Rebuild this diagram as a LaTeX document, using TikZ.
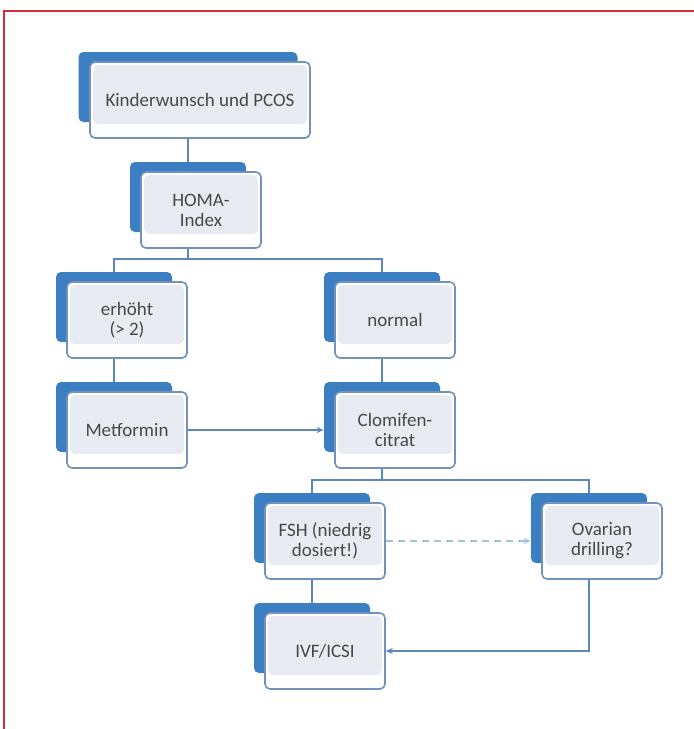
\documentclass[tikz,border=0pt]{standalone}
\usepackage{fontspec}
\setmainfont{Carlito}
\usetikzlibrary{arrows.meta}

\definecolor{backblue}{HTML}{3B7FC2}
\definecolor{frameblue}{HTML}{7092BC}
\definecolor{innergray}{HTML}{E8ECF2}
\definecolor{lineblue}{HTML}{5C87B8}
\definecolor{dashblue}{HTML}{A3BEDF}
\definecolor{framered}{HTML}{D22B3C}
\definecolor{textgray}{HTML}{474747}

\tikzset{
  back/.style={fill=backblue, rounded corners=2.5pt, minimum width=58pt, minimum height=35pt, inner sep=0pt},
  front/.style={draw=frameblue, line width=0.8pt, fill=white, rounded corners=2.5pt,
    minimum width=60pt, minimum height=38pt, inner sep=0pt,
    text=textgray, font=\fontsize{9.5}{10}\selectfont, align=center,
    path picture={\fill[innergray] ([shift={(1.5pt,-1.5pt)}]path picture bounding box.north west)
      rectangle ([shift={(-1.5pt,7pt)}]path picture bounding box.south east);}},
  link/.style={draw=lineblue, line width=0.6pt},
  tip/.style={-{Stealth[length=3.5pt,width=3pt]}},
  maybe/.style={draw=dashblue, line width=1.1pt, dash pattern=on 3.5pt off 2.5pt, -{Stealth[length=3.5pt,width=3pt,open]}}
}

\begin{document}
\begin{tikzpicture}[x=0.5pt,y=-0.5pt]
\useasboundingbox (0,0) rectangle (694,729);
\draw[framered, line width=1.2pt] (694,11) -- (4,11) -- (4,729);

% Kinderwunsch und PCOS
\node[back, minimum width=109.5pt] (b1) at (188,87) {};
\node[front, minimum width=110pt] (f1) at (200,100) {Kinderwunsch und PCOS};

% HOMA-Index
\node[back] (b2) at (188,197) {};
\node[front] (f2) at (201,210) {HOMA-\\Index};

% erhoeht
\node[back] (b3) at (114,307) {};
\node[front] (f3) at (127,320) {erhöht\\(> 2)};

% Metformin
\node[back] (b4) at (114,417) {};
\node[front] (f4) at (127,430) {Metformin};

% normal
\node[back] (b5) at (382,307) {};
\node[front] (f5) at (395,320) {normal};

% Clomifencitrat
\node[back] (b6) at (382,417) {};
\node[front] (f6) at (395,430) {Clomifen-\\citrat};

% FSH
\node[back] (b7) at (312,528) {};
\node[front] (f7) at (325,541) {FSH (niedrig\\dosiert!)};

% Ovarian drilling
\node[back] (b8) at (589,528) {};
\node[front] (f8) at (602,541) {Ovarian\\drilling?};

% IVF/ICSI
\node[back] (b9) at (312,638) {};
\node[front] (f9) at (325,651) {IVF/ICSI};

% connectors
\coordinate (bus1) at (188,259);
\coordinate (bus2) at (382,480);
\draw[link] (f1.south -| b1) -- (b2.north);
\draw[link] (f2.south -| b2) -- (bus1);
\draw[link] (b3.north) |- (bus1) -| (b5.north);
\draw[link] (f3.south -| b3) -- (b4.north);
\draw[link] (f5.south -| b5) -- (b6.north);
\draw[link, tip] (f4.east) -- (f4.east -| b6.west);
\draw[link] (f6.south -| b6) -- (bus2);
\draw[link] (b7.north) |- (bus2) -| (b8.north);
\draw[link] (f7.south -| b7) -- (b9.north);
\draw[maybe] (f7.east) -- (f7.east -| b8.west);
\draw[link, tip] (f8.south -| b8) |- (f9.east);
\end{tikzpicture}
\end{document}
